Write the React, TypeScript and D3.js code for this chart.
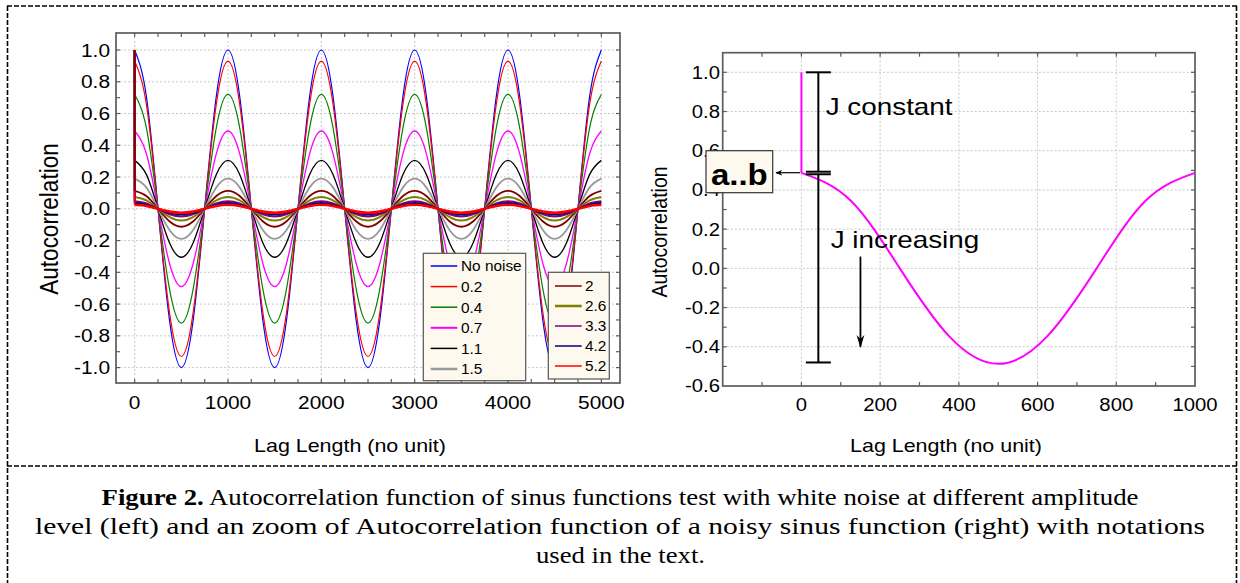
import React from "react";
import * as d3 from "d3";

// ---------- data ----------
const noiseLevels = ["No noise", "0.2", "0.4", "0.7", "1.1", "1.5", "2", "2.6", "3.3", "4.2", "5.2"];
const amplitudes = [1.0, 0.93, 0.72, 0.49, 0.305, 0.19, 0.113, 0.074, 0.048, 0.036, 0.025];
const seriesColors = ["#0000ff", "#ff0000", "#008000", "#ff00ff", "#000000", "#999999", "#800000", "#808000", "#800080", "#000080", "#ff0000"];
const seriesWidths = [1.2, 1.2, 1.2, 1.3, 1.3, 1.8, 1.8, 2, 2, 2, 2.6];
const legendWidths = [1.5, 1.5, 1.5, 2, 1.5, 2.5, 1.5, 2.5, 1.5, 1.5, 1.5];
const lagZeroValue = 1.0;
const periodLength = 1000;
// one period of the normalised autocorrelation, read at eighths of the period
const periodLags = [0, 125, 250, 375, 500, 625, 750, 875];
const periodShape = [1, 0.71, 0, -0.71, -1, -0.71, 0, 0.71];
const leftMaxLag = 5000;
const leftXTicks = [0, 1000, 2000, 3000, 4000, 5000];
const leftYTicks = [-1.0, -0.8, -0.6, -0.4, -0.2, 0.0, 0.2, 0.4, 0.6, 0.8, 1.0];

const zoomAmplitude = 0.487;
const zoomMaxLag = 1000;
const rightXTicks = [0, 200, 400, 600, 800, 1000];
const rightYTicks = [-0.6, -0.4, -0.2, 0.0, 0.2, 0.4, 0.6, 0.8, 1.0];
const jConstantBar = { lag: 43, top: 1.0, bottom: 0.493 };
const jIncreasingBar = { lag: 43, top: 0.48, bottom: -0.48 };
const jIncreasingArrow = { lag: 150, from: 0.06, to: -0.4 };

const captionLines = [
  "Autocorrelation function of sinus functions test with white noise at different amplitude",
  "level (left) and an zoom of Autocorrelation function of a noisy sinus function (right) with notations",
  "used in the text.",
];

// ---------- helpers ----------
const SANS = '"Liberation Sans", Arial, Helvetica, sans-serif';
const SERIF = '"Liberation Serif", "Times New Roman", Times, serif';
const SX = 1.16;
const AXIS = "#5c5c5c";

function T({ x, y, size, anchor = "start", weight = "normal", rotate = 0, sx = SX, children }: any) {
  return (
    <text
      transform={`translate(${x},${y}) scale(${sx},1)${rotate ? ` rotate(${rotate})` : ""}`}
      fontSize={size}
      textAnchor={anchor}
      fontWeight={weight}
      style={{ fontFamily: SANS }}
      fill="#000"
    >
      {children}
    </text>
  );
}

function cyclePoints(amp: number, maxLag: number): [number, number][] {
  const pts: [number, number][] = [];
  for (let start = 0; start < maxLag; start += periodLength) {
    periodLags.forEach((l, i) => pts.push([start + l, amp * periodShape[i]]));
  }
  pts.push([maxLag, amp * periodShape[0]]);
  return pts;
}

const fmt1 = (v: number) => (Math.abs(v) < 1e-9 ? "0.0" : v.toFixed(1));

function Frame({ x, y, xMinor, yMinor, xGrid, yGrid }: any) {
  const [x0, x1] = x.range();
  const [y1, y0] = y.range();
  return (
    <g>
      {xGrid.map((v: number) => (
        <line key={"gx" + v} x1={x(v)} x2={x(v)} y1={y0} y2={y1} stroke="#c8c8c8" strokeDasharray="2,2" strokeWidth={1} />
      ))}
      {yGrid.map((v: number) => (
        <line key={"gy" + v} x1={x0} x2={x1} y1={y(v)} y2={y(v)} stroke="#c8c8c8" strokeDasharray="2,2" strokeWidth={1} />
      ))}
      {xMinor.map((v: number) => (
        <g key={"tx" + v}>
          <line x1={x(v)} x2={x(v)} y1={y1} y2={y1 - 4} stroke={AXIS} strokeWidth={1.2} />
          <line x1={x(v)} x2={x(v)} y1={y0} y2={y0 + 4} stroke={AXIS} strokeWidth={1.2} />
        </g>
      ))}
      {yMinor.map((v: number) => (
        <g key={"ty" + v}>
          <line x1={x0} x2={x0 + 4} y1={y(v)} y2={y(v)} stroke={AXIS} strokeWidth={1.2} />
          <line x1={x1} x2={x1 - 4} y1={y(v)} y2={y(v)} stroke={AXIS} strokeWidth={1.2} />
        </g>
      ))}
      <rect x={x0} y={y0} width={x1 - x0} height={y1 - y0} fill="none" stroke={AXIS} strokeWidth={1.7} />
    </g>
  );
}

function range(a: number, b: number, s: number) {
  return d3.range(Math.round(a / s), Math.round(b / s) + 1).map((k) => +(k * s).toFixed(6));
}

export default function App() {
  // ----- left chart -----
  const lx = d3.scaleLinear().domain([-200, 5200]).range([116, 620]);
  const ly = d3.scaleLinear().domain([-1.097, 1.107]).range([383, 33]);
  const curve = d3
    .line<[number, number]>()
    .x((d) => lx(d[0]))
    .y((d) => ly(d[1]))
    .curve(d3.curveNatural);
  const lin = d3
    .line<[number, number]>()
    .x((d) => lx(d[0]))
    .y((d) => ly(d[1]));

  // ----- right chart -----
  const rx = d3.scaleLinear().domain([-200, 1000]).range([722.7, 1195]);
  const ry = d3.scaleLinear().domain([-0.6, 1.1]).range([386, 52.7]);
  const rcurve = d3
    .line<[number, number]>()
    .x((d) => rx(d[0]))
    .y((d) => ry(d[1]))
    .curve(d3.curveNatural);

  const legendA = [0, 1, 2, 3, 4, 5];
  const legendB = [6, 7, 8, 9, 10];
  // vertical drops at lag 0 drawn so that the dark red one ends on top, as in the picture
  const dropOrder = [1, 2, 3, 4, 5, 7, 8, 9, 10, 6];

  const capHalf = 12.5;

  return (
    <svg width={1240} height={583} style={{ position: "absolute", left: 0, top: 0, background: "#fff" }}>
      <defs>
        <marker id="ah" viewBox="0 0 10 10" refX="9" refY="5" markerWidth="7" markerHeight="7" orient="auto" markerUnits="userSpaceOnUse">
          <path d="M0,1 L10,5 L0,9 L3,5 Z" fill="#000" />
        </marker>
        <marker id="ah2" viewBox="0 0 10 10" refX="9" refY="5" markerWidth="13" markerHeight="13" orient="auto" markerUnits="userSpaceOnUse">
          <path d="M0,2 L10,5 L0,8 L3,5 Z" fill="#000" />
        </marker>
      </defs>
      <rect x={0} y={0} width={1240} height={583} fill="#fff" />

      {/* outer dashed frame */}
      <g stroke="#000" strokeWidth={1.6} strokeDasharray="5,2" fill="none">
        <line x1={7} x2={1237} y1={6} y2={6} />
        <line x1={7.5} x2={7.5} y1={6} y2={583} />
        <line x1={1236.5} x2={1236.5} y1={6} y2={583} />
        <line x1={7} x2={1237} y1={466} y2={466} />
      </g>

      {/* ================= LEFT ================= */}
      <Frame x={lx} y={ly} xMinor={range(0, 5000, 250)} yMinor={range(-1.0, 1.0, 0.1)} xGrid={leftXTicks} yGrid={leftYTicks} />
      {amplitudes.map((a, i) => (
        <path key={"s" + i} d={curve(cyclePoints(a, leftMaxLag)) || ""} fill="none" stroke={seriesColors[i]} strokeWidth={seriesWidths[i]} />
      ))}
      {dropOrder.map((i) => (
        <path key={"d" + i} d={lin([[0, lagZeroValue], [0, amplitudes[i]]]) || ""} fill="none" stroke={seriesColors[i]} strokeWidth={1.8} />
      ))}
      {leftYTicks.map((v) => (
        <T key={"ly" + v} x={110} y={ly(v) + 6.6} size={18} anchor="end">
          {fmt1(v)}
        </T>
      ))}
      {leftXTicks.map((v) => (
        <T key={"lx" + v} x={lx(v)} y={409} size={18} anchor="middle">
          {String(v)}
        </T>
      ))}
      <T x={58} y={219} size={22.5} anchor="middle" rotate={-90}>
        Autocorrelation
      </T>
      <T x={350} y={452} size={18.5} anchor="middle">
        Lag Length (no unit)
      </T>

      {/* legends */}
      <rect x={423.3} y={253.3} width={102.4} height={127.4} fill="#fdf9ee" stroke="#555" strokeWidth={1.2} />
      {legendA.map((idx, k) => {
        const yy = 266 + k * 20.6;
        return (
          <g key={"la" + idx}>
            <line x1={430.7} x2={457.3} y1={yy} y2={yy} stroke={seriesColors[idx]} strokeWidth={legendWidths[idx]} />
            <T x={461} y={yy + 5.4} size={14.5} sx={1.06}>
              {noiseLevels[idx]}
            </T>
          </g>
        );
      })}
      <rect x={548.3} y={272.3} width={61} height={106.7} fill="#fdf9ee" stroke="#555" strokeWidth={1.2} />
      {legendB.map((idx, k) => {
        const yy = 286 + k * 20;
        return (
          <g key={"lb" + idx}>
            <line x1={555} x2={581.7} y1={yy} y2={yy} stroke={seriesColors[idx]} strokeWidth={legendWidths[idx]} />
            <T x={585} y={yy + 5.4} size={14.5} sx={1.06}>
              {noiseLevels[idx]}
            </T>
          </g>
        );
      })}

      {/* ================= RIGHT ================= */}
      <Frame x={rx} y={ry} xMinor={range(-100, 900, 100)} yMinor={range(-0.5, 1.0, 0.1)} xGrid={[0, 200, 400, 600, 800]} yGrid={[-0.4, -0.2, 0.0, 0.2, 0.4, 0.6, 0.8, 1.0]} />
      <path d={`M${rx(0)},${ry(lagZeroValue)}L${rx(0)},${ry(zoomAmplitude)}`} fill="none" stroke="#ff00ff" strokeWidth={2} />
      <path d={rcurve(cyclePoints(zoomAmplitude, zoomMaxLag)) || ""} fill="none" stroke="#ff00ff" strokeWidth={2} />
      {rightYTicks.map((v) => (
        <T key={"ry" + v} x={720} y={ry(v) + 6.4} size={17.5} anchor="end">
          {fmt1(v)}
        </T>
      ))}
      {rightXTicks.map((v) => (
        <T key={"rx" + v} x={rx(v)} y={411} size={17.5} anchor="middle">
          {String(v)}
        </T>
      ))}
      <T x={666.5} y={232} size={19.5} anchor="middle" rotate={-90}>
        Autocorrelation
      </T>
      <T x={946} y={452} size={18.5} anchor="middle">
        Lag Length (no unit)
      </T>

      {/* error bars */}
      {[jConstantBar, jIncreasingBar].map((b, i) => (
        <g key={"eb" + i} stroke="#000" strokeWidth={2}>
          <line x1={rx(b.lag)} x2={rx(b.lag)} y1={ry(b.top)} y2={ry(b.bottom)} />
          <line x1={rx(b.lag) - capHalf} x2={rx(b.lag) + capHalf} y1={ry(b.top)} y2={ry(b.top)} />
          <line x1={rx(b.lag) - capHalf} x2={rx(b.lag) + capHalf} y1={ry(b.bottom)} y2={ry(b.bottom)} />
        </g>
      ))}
      <T x={825.7} y={115} size={24}>
        J constant
      </T>
      <T x={830.7} y={248.3} size={24}>
        J increasing
      </T>
      <line
        x1={rx(jIncreasingArrow.lag)}
        x2={rx(jIncreasingArrow.lag)}
        y1={ry(jIncreasingArrow.from)}
        y2={ry(jIncreasingArrow.to)}
        stroke="#000"
        strokeWidth={1.8}
        markerEnd="url(#ah2)"
      />
      {/* a..b label */}
      <line x1={800} x2={776} y1={172.7} y2={172.7} stroke="#000" strokeWidth={1.2} markerEnd="url(#ah)" />
      <rect x={706} y={150.7} width={66.7} height={42} fill="#fdf9ee" stroke="#333" strokeWidth={1.2} />
      <T x={739.3} y={185} size={30} anchor="middle" weight="bold" sx={1.1}>
        a..b
      </T>

      {/* ================= CAPTION ================= */}
      <text x={620} y={505} textAnchor="middle" style={{ fontFamily: SERIF }} fontSize={22.5} textLength={1037} lengthAdjust="spacingAndGlyphs">
        <tspan fontWeight="bold">Figure 2.</tspan> {captionLines[0]}
      </text>
      <text x={620} y={534} textAnchor="middle" style={{ fontFamily: SERIF }} fontSize={22.5} textLength={1170} lengthAdjust="spacingAndGlyphs">
        {captionLines[1]}
      </text>
      <text x={620.5} y={563} textAnchor="middle" style={{ fontFamily: SERIF }} fontSize={22.5} textLength={169} lengthAdjust="spacingAndGlyphs">
        {captionLines[2]}
      </text>
    </svg>
  );
}
